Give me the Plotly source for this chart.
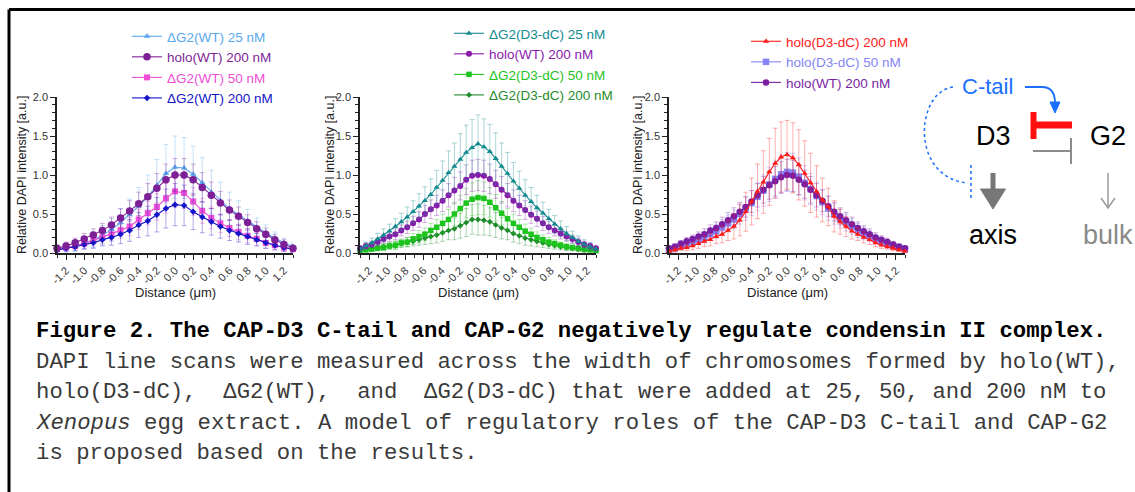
import plotly.graph_objects as go

W, H = 1135, 492
def px(x): return x / W
def py(y): return 1 - y / H

# ---------------- data ----------------
x_p1 = [-1.3, -1.2, -1.1, -1.0, -0.9, -0.8, -0.7, -0.6, -0.5, -0.4, -0.3, -0.2, -0.1, 0.0,
        0.1, 0.2, 0.3, 0.4, 0.5, 0.6, 0.7, 0.8, 0.9, 1.0, 1.1, 1.2, 1.3]
x_p23 = [-1.3, -1.235, -1.17, -1.105, -1.04, -0.975, -0.91, -0.845, -0.78, -0.715, -0.65,
         -0.585, -0.52, -0.455, -0.39, -0.325, -0.26, -0.195, -0.13, -0.065, 0.0,
         0.065, 0.13, 0.195, 0.26, 0.325, 0.39, 0.455, 0.52, 0.585, 0.65,
         0.715, 0.78, 0.845, 0.91, 0.975, 1.04, 1.105, 1.17, 1.235, 1.3]

# Panel 1
p1_dG2wt25 = [0.04, 0.06, 0.09, 0.13, 0.17, 0.23, 0.30, 0.39, 0.49, 0.60, 0.72, 0.87, 1.02, 1.10,
              1.09, 1.01, 0.90, 0.78, 0.67, 0.57, 0.49, 0.41, 0.33, 0.26, 0.19, 0.13, 0.08]
p1_dG2wt25_err = [0.05, 0.06, 0.07, 0.08, 0.10, 0.12, 0.14, 0.17, 0.20, 0.24, 0.28, 0.33, 0.37, 0.40,
                  0.39, 0.36, 0.32, 0.28, 0.24, 0.21, 0.18, 0.15, 0.12, 0.10, 0.08, 0.06, 0.05]
p1_holowt = [0.06, 0.09, 0.13, 0.18, 0.23, 0.29, 0.36, 0.45, 0.54, 0.63, 0.72, 0.83, 0.94, 1.00,
             1.00, 0.94, 0.84, 0.74, 0.64, 0.55, 0.47, 0.39, 0.31, 0.24, 0.17, 0.11, 0.06]
p1_holowt_err = [0.04, 0.05, 0.06, 0.07, 0.08, 0.09, 0.10, 0.12, 0.13, 0.15, 0.17, 0.19, 0.20, 0.21,
                 0.21, 0.20, 0.19, 0.17, 0.15, 0.13, 0.12, 0.10, 0.09, 0.08, 0.07, 0.06, 0.05]
p1_dG2wt50 = [0.05, 0.07, 0.09, 0.12, 0.16, 0.20, 0.24, 0.29, 0.34, 0.43, 0.51, 0.59, 0.70, 0.79,
              0.77, 0.66, 0.54, 0.45, 0.38, 0.32, 0.27, 0.22, 0.18, 0.13, 0.10, 0.07, 0.05]
p1_dG2wt50_err = [0.03, 0.04, 0.05, 0.06, 0.07, 0.08, 0.09, 0.10, 0.12, 0.13, 0.15, 0.17, 0.19, 0.20,
                  0.20, 0.18, 0.16, 0.14, 0.12, 0.11, 0.10, 0.09, 0.08, 0.07, 0.06, 0.05, 0.04]
p1_dG2wt200 = [0.04, 0.06, 0.08, 0.11, 0.13, 0.17, 0.20, 0.24, 0.29, 0.36, 0.41, 0.49, 0.57, 0.62,
               0.61, 0.53, 0.46, 0.40, 0.34, 0.29, 0.25, 0.21, 0.17, 0.13, 0.10, 0.07, 0.05]
p1_dG2wt200_err = [0.03, 0.04, 0.05, 0.06, 0.07, 0.08, 0.10, 0.12, 0.14, 0.16, 0.19, 0.22, 0.25, 0.27,
                   0.26, 0.23, 0.20, 0.17, 0.15, 0.13, 0.11, 0.10, 0.08, 0.07, 0.06, 0.05, 0.04]

# Panel 2
p2_dG2dc25 = [0.05, 0.09, 0.13, 0.18, 0.23, 0.28, 0.34, 0.40, 0.46, 0.53, 0.60, 0.67, 0.75, 0.84,
              0.93, 1.03, 1.11, 1.20, 1.29, 1.35, 1.40, 1.36, 1.30, 1.21, 1.11, 1.02, 0.92, 0.83,
              0.74, 0.66, 0.58, 0.51, 0.44, 0.37, 0.31, 0.25, 0.20, 0.15, 0.11, 0.08, 0.05]
p2_dG2dc25_err = [0.04, 0.05, 0.06, 0.07, 0.08, 0.09, 0.10, 0.11, 0.13, 0.14, 0.16, 0.18, 0.20, 0.22,
                  0.25, 0.28, 0.30, 0.33, 0.35, 0.36, 0.37, 0.36, 0.35, 0.33, 0.30, 0.27, 0.24, 0.22,
                  0.20, 0.18, 0.16, 0.14, 0.12, 0.11, 0.10, 0.09, 0.08, 0.07, 0.06, 0.05, 0.04]
p2_holowt = [0.06, 0.09, 0.11, 0.14, 0.18, 0.21, 0.24, 0.29, 0.33, 0.38, 0.43, 0.50, 0.56, 0.61,
             0.67, 0.74, 0.80, 0.86, 0.94, 0.99, 1.00, 0.99, 0.95, 0.88, 0.81, 0.74, 0.67, 0.61,
             0.55, 0.49, 0.44, 0.38, 0.33, 0.29, 0.25, 0.21, 0.18, 0.14, 0.11, 0.09, 0.06]
p2_holowt_err = [0.03, 0.04, 0.04, 0.05, 0.05, 0.06, 0.07, 0.07, 0.08, 0.09, 0.10, 0.11, 0.12, 0.13,
                 0.14, 0.15, 0.17, 0.18, 0.19, 0.20, 0.20, 0.20, 0.19, 0.18, 0.17, 0.15, 0.14, 0.13,
                 0.12, 0.11, 0.10, 0.09, 0.08, 0.07, 0.07, 0.06, 0.05, 0.05, 0.04, 0.04, 0.03]
p2_dG2dc50 = [0.03, 0.04, 0.05, 0.06, 0.07, 0.09, 0.10, 0.13, 0.14, 0.18, 0.21, 0.24, 0.29, 0.33,
              0.38, 0.43, 0.50, 0.57, 0.64, 0.69, 0.71, 0.70, 0.65, 0.58, 0.51, 0.44, 0.38, 0.33,
              0.28, 0.24, 0.20, 0.17, 0.14, 0.12, 0.10, 0.08, 0.07, 0.06, 0.05, 0.04, 0.03]
p2_dG2dc50_err = [0.02, 0.02, 0.03, 0.03, 0.04, 0.04, 0.05, 0.05, 0.06, 0.07, 0.08, 0.08, 0.09, 0.10,
                  0.12, 0.13, 0.15, 0.17, 0.19, 0.21, 0.22, 0.21, 0.19, 0.17, 0.15, 0.13, 0.12, 0.10,
                  0.09, 0.08, 0.07, 0.06, 0.06, 0.05, 0.04, 0.04, 0.03, 0.03, 0.03, 0.02, 0.02]
p2_dG2dc200 = [0.04, 0.05, 0.06, 0.07, 0.08, 0.09, 0.10, 0.12, 0.14, 0.15, 0.17, 0.19, 0.21, 0.23,
               0.26, 0.29, 0.31, 0.35, 0.39, 0.43, 0.43, 0.42, 0.40, 0.36, 0.32, 0.29, 0.25, 0.22,
               0.19, 0.17, 0.15, 0.13, 0.11, 0.10, 0.08, 0.07, 0.06, 0.05, 0.04, 0.04, 0.03]
p2_dG2dc200_err = [0.02, 0.02, 0.03, 0.03, 0.04, 0.04, 0.05, 0.05, 0.06, 0.06, 0.07, 0.08, 0.09, 0.10,
                   0.11, 0.12, 0.14, 0.16, 0.18, 0.19, 0.20, 0.19, 0.18, 0.16, 0.14, 0.12, 0.11, 0.10,
                   0.09, 0.08, 0.07, 0.06, 0.05, 0.05, 0.04, 0.04, 0.03, 0.03, 0.03, 0.02, 0.02]

# Panel 3
p3_holodc200 = [0.02, 0.04, 0.06, 0.07, 0.09, 0.12, 0.15, 0.17, 0.21, 0.24, 0.29, 0.34, 0.42, 0.53,
                0.66, 0.79, 0.91, 1.04, 1.15, 1.23, 1.26, 1.22, 1.13, 1.02, 0.90, 0.79, 0.68, 0.59,
                0.47, 0.40, 0.34, 0.28, 0.24, 0.20, 0.17, 0.13, 0.10, 0.08, 0.06, 0.04, 0.02]
p3_holodc200_err = [0.02, 0.03, 0.03, 0.04, 0.05, 0.06, 0.07, 0.08, 0.09, 0.11, 0.13, 0.16, 0.20, 0.25,
                    0.30, 0.35, 0.40, 0.43, 0.45, 0.45, 0.44, 0.45, 0.45, 0.42, 0.38, 0.33, 0.28, 0.24,
                    0.20, 0.16, 0.13, 0.10, 0.08, 0.07, 0.06, 0.05, 0.04, 0.03, 0.03, 0.02, 0.02]
p3_holodc50 = [0.04, 0.06, 0.09, 0.12, 0.14, 0.17, 0.20, 0.24, 0.28, 0.33, 0.38, 0.43, 0.50, 0.57,
               0.64, 0.72, 0.80, 0.88, 0.95, 1.01, 1.04, 1.03, 0.98, 0.90, 0.82, 0.73, 0.65, 0.57,
               0.50, 0.44, 0.39, 0.34, 0.29, 0.25, 0.22, 0.18, 0.15, 0.12, 0.09, 0.07, 0.05]
p3_holodc50_err = [0.03, 0.04, 0.04, 0.05, 0.05, 0.06, 0.07, 0.08, 0.09, 0.10, 0.11, 0.12, 0.13, 0.15,
                   0.16, 0.18, 0.20, 0.22, 0.24, 0.25, 0.25, 0.25, 0.24, 0.22, 0.20, 0.18, 0.16, 0.15,
                   0.13, 0.12, 0.11, 0.10, 0.09, 0.08, 0.07, 0.06, 0.05, 0.05, 0.04, 0.04, 0.03]
p3_holowt = [0.06, 0.08, 0.12, 0.15, 0.18, 0.21, 0.24, 0.29, 0.32, 0.37, 0.42, 0.47, 0.53, 0.59,
             0.66, 0.74, 0.81, 0.87, 0.92, 0.97, 1.00, 0.99, 0.94, 0.88, 0.81, 0.74, 0.67, 0.60,
             0.53, 0.47, 0.42, 0.37, 0.32, 0.28, 0.24, 0.20, 0.17, 0.14, 0.11, 0.08, 0.06]
p3_holowt_err = [0.03, 0.04, 0.04, 0.05, 0.05, 0.06, 0.07, 0.07, 0.08, 0.09, 0.10, 0.11, 0.12, 0.13,
                 0.14, 0.15, 0.17, 0.18, 0.19, 0.20, 0.20, 0.20, 0.19, 0.18, 0.17, 0.15, 0.14, 0.13,
                 0.12, 0.11, 0.10, 0.09, 0.08, 0.07, 0.07, 0.06, 0.05, 0.05, 0.04, 0.04, 0.03]

x_tick_labels = ["-1.2", "-1.0", "-0.8", "-0.6", "-0.4", "-0.2", "0.0",
                 "0.2", "0.4", "0.6", "0.8", "1.0", "1.2"]
y_tick_labels = ["0.0", "0.5", "1.0", "1.5", "2.0"]

caption_lines = [
    "<b>Figure 2. The CAP-D3 C-tail and CAP-G2 negatively regulate condensin II complex.</b>",
    "DAPI line scans were measured across the width of chromosomes formed by holo(WT),",
    "holo(D3-dC),\u00a0\u00a0ΔG2(WT),\u00a0\u00a0and\u00a0\u00a0ΔG2(D3-dC) that were added at 25, 50, and 200 nM to",
    "<i>Xenopus</i> egg extract. A model of regulatory roles of the CAP-D3 C-tail and CAP-G2",
    "is proposed based on the results.",
]

# ---------------- figure ----------------
fig = go.Figure()
SANS = "Liberation Sans, Arial, sans-serif"

def rgba(hexc, a):
    hexc = hexc.lstrip('#')
    r, g, b = int(hexc[0:2], 16), int(hexc[2:4], 16), int(hexc[4:6], 16)
    return f"rgba({r},{g},{b},{a})"

def add(xv, yv, ev, name, color, symbol, size, axis, legend, rank, errc_alpha=0.35):
    fig.add_trace(go.Scatter(
        x=xv, y=yv, mode="lines+markers",
        name=f'<span style="color:{color}">{name}</span>',
        line=dict(color=color, width=1.1),
        marker=dict(color=color, symbol=symbol, size=size, line=dict(width=0)),
        error_y=dict(type="data", array=ev, color=rgba(color, errc_alpha), thickness=1, width=2.5),
        xaxis="x" + axis, yaxis="y" + axis, legend=legend, legendrank=rank,
        cliponaxis=False,
    ))

LB, PU1, PK, BL = "#5aa8ee", "#7d1f96", "#ee4fd6", "#1414c8"
TE, PU2, GR, DG = "#138a8f", "#8a1aac", "#1ec41e", "#1e8c2a"
RD, LP, PU3 = "#ff1a1a", "#8585f5", "#7a1fa4"

# panel 1
add(x_p1, p1_dG2wt25, p1_dG2wt25_err, "ΔG2(WT) 25 nM", LB, "triangle-up", 6, "", "legend", 1)
add(x_p1, p1_dG2wt50, p1_dG2wt50_err, "ΔG2(WT) 50 nM", PK, "square", 6, "", "legend", 3)
add(x_p1, p1_dG2wt200, p1_dG2wt200_err, "ΔG2(WT) 200 nM", BL, "diamond", 5, "", "legend", 4)
add(x_p1, p1_holowt, p1_holowt_err, "holo(WT) 200 nM", PU1, "circle", 7.5, "", "legend", 2)
# panel 2
add(x_p23, p2_dG2dc200, p2_dG2dc200_err, "ΔG2(D3-dC) 200 nM", DG, "diamond", 4.5, "2", "legend2", 4)
add(x_p23, p2_dG2dc50, p2_dG2dc50_err, "ΔG2(D3-dC) 50 nM", GR, "square", 5.5, "2", "legend2", 3)
add(x_p23, p2_holowt, p2_holowt_err, "holo(WT) 200 nM", PU2, "circle", 6, "2", "legend2", 2)
add(x_p23, p2_dG2dc25, p2_dG2dc25_err, "ΔG2(D3-dC) 25 nM", TE, "triangle-up", 5.5, "2", "legend2", 1)
# panel 3
add(x_p23, p3_holodc50, p3_holodc50_err, "holo(D3-dC) 50 nM", LP, "square", 6.5, "3", "legend3", 2)
add(x_p23, p3_holowt, p3_holowt_err, "holo(WT) 200 nM", PU3, "circle", 6.5, "3", "legend3", 3)
add(x_p23, p3_holodc200, p3_holodc200_err, "holo(D3-dC) 200 nM", RD, "triangle-up", 5.5, "3", "legend3", 1)

tickvals_x = [float(t) for t in x_tick_labels]
tickvals_y = [float(t) for t in y_tick_labels]

def xaxis_cfg(x0, x1, anchor):
    return dict(domain=[px(x0), px(x1)], range=[-1.3, 1.3], anchor=anchor, automargin=False,
                showgrid=False, zeroline=False, showline=True, linecolor="#222", linewidth=1.5,
                ticks="outside", ticklen=5, tickwidth=1.2, tickcolor="#222",
                tickmode="array", tickvals=tickvals_x, ticktext=x_tick_labels, tickangle=-45,
                tickfont=dict(family=SANS, size=11, color="#333"),
                minor=dict(tickmode="linear", tick0=-1.3, dtick=0.1, ticks="outside",
                           ticklen=3.5, tickwidth=1.2, tickcolor="#222"))

def yaxis_cfg(anchor):
    return dict(domain=[py(253), py(97)], range=[0, 2.0], anchor=anchor, automargin=False,
                showgrid=False, zeroline=False, showline=True, linecolor="#222", linewidth=1.5,
                ticks="outside", ticklen=5, tickwidth=1.2, tickcolor="#222",
                tickmode="array", tickvals=tickvals_y, ticktext=y_tick_labels,
                tickfont=dict(family=SANS, size=11, color="#333"),
                minor=dict(tickmode="linear", tick0=0, dtick=0.1, ticks="outside",
                           ticklen=3, tickwidth=1, tickcolor="#222"))

def legend_cfg(x, y):
    return dict(x=px(x), y=py(y), xanchor="left", yanchor="top", bgcolor="rgba(0,0,0,0)",
                font=dict(family=SANS, size=13.5), itemwidth=30, tracegroupgap=0,
                traceorder="normal")

fig.update_layout(
    width=W, height=H, margin=dict(l=0, r=0, t=0, b=0, pad=0, autoexpand=False),
    paper_bgcolor="white", plot_bgcolor="white", showlegend=True,
    xaxis=xaxis_cfg(57, 293, "y"), yaxis=yaxis_cfg("x"),
    xaxis2=xaxis_cfg(360, 596, "y2"), yaxis2=yaxis_cfg("x2"),
    xaxis3=xaxis_cfg(669, 905, "y3"), yaxis3=yaxis_cfg("x3"),
    legend=legend_cfg(127, 21), legend2=legend_cfg(449, 18), legend3=legend_cfg(746, 26),
    font=dict(family=SANS),
)

ann = []
# axis titles
for cx, tx in [(22, 175), (330, 478), (638, 787)]:
    ann.append(dict(x=px(cx), y=py(175), xref="paper", yref="paper", text="Relative DAPI intensity [a.u.]",
                    textangle=-90, showarrow=False, font=dict(family=SANS, size=12.5, color="#222"),
                    xanchor="center", yanchor="middle"))
    ann.append(dict(x=px(tx), y=py(292), xref="paper", yref="paper", text="Distance (μm)",
                    showarrow=False, font=dict(family=SANS, size=13, color="#222"),
                    xanchor="center", yanchor="middle"))

# diagram labels
diag = [
    dict(x=px(987), y=py(87), text="C-tail", font=dict(family=SANS, size=22, color="#1a6fff")),
    dict(x=px(994), y=py(136), text="D3", font=dict(family=SANS, size=27, color="#000")),
    dict(x=px(1108), y=py(136), text="G2", font=dict(family=SANS, size=27, color="#000")),
    dict(x=px(993), y=py(235), text="axis", font=dict(family=SANS, size=27, color="#000")),
    dict(x=px(1108), y=py(235), text="bulk", font=dict(family=SANS, size=27, color="#8a8a8a")),
]
for a in diag:
    a.update(xref="paper", yref="paper", showarrow=False, xanchor="center", yanchor="middle")
ann += diag

# caption
cap_y = [331, 362, 392, 423, 453]
for i, (line, yy) in enumerate(zip(caption_lines, cap_y)):
    ann.append(dict(x=px(34), y=py(yy), xref="paper", yref="paper", text=line, showarrow=False,
                    xanchor="left", yanchor="middle",
                    font=dict(family="Liberation Mono, Courier New, monospace", size=22.3,
                              color="#000" if i == 0 else "#3a3a3a")))
fig.update_layout(annotations=ann)

def P(pts, close=False):
    s = "M " + " L ".join(f"{px(x)},{py(y)}" for x, y in pts)
    return s + (" Z" if close else "")

shapes = [
    # frame
    dict(type="line", x0=px(9), x1=px(1135), y0=py(9.5), y1=py(9.5), line=dict(color="#000", width=3)),
    dict(type="line", x0=px(9), x1=px(9), y0=py(9.5), y1=py(492), line=dict(color="#000", width=3)),
    # red T (G2 -| D3)
    dict(type="line", x0=px(1033), x1=px(1072), y0=py(125), y1=py(125), line=dict(color="#ff1010", width=7)),
    dict(type="line", x0=px(1033.5), x1=px(1033.5), y0=py(112), y1=py(139), line=dict(color="#ff1010", width=6)),
    # gray T (D3 -| G2)
    dict(type="line", x0=px(1033), x1=px(1071), y0=py(151), y1=py(151), line=dict(color="#8c8c8c", width=2)),
    dict(type="line", x0=px(1071), x1=px(1071), y0=py(138), y1=py(164), line=dict(color="#8c8c8c", width=2)),
    # blue curved arrow
    dict(type="path", path=f"M {px(1025)},{py(87)} L {px(1042)},{py(87)} Q {px(1055)},{py(87)} {px(1055)},{py(103)}",
         line=dict(color="#1a6fff", width=1.8)),
    dict(type="path", path=P([(1050, 102), (1060, 102), (1055, 113)], True),
         line=dict(color="#1a6fff", width=1), fillcolor="#1a6fff"),
    # blue dotted inhibition
    dict(type="path", path=f"M {px(953)},{py(87)} C {px(915)},{py(92)} {px(910)},{py(178)} {px(968)},{py(183)}",
         line=dict(color="#1a6fff", width=1.5, dash="dot")),
    dict(type="line", x0=px(971), x1=px(971), y0=py(165), y1=py(200), line=dict(color="#1a6fff", width=1.5, dash="dot")),
    # thick gray arrow to axis
    dict(type="line", x0=px(993), x1=px(993), y0=py(173), y1=py(192), line=dict(color="#777", width=5)),
    dict(type="path", path=P([(980.5, 189), (1005.5, 189), (993, 209)], True),
         line=dict(color="#777", width=1), fillcolor="#777"),
    # thin gray arrow to bulk
    dict(type="line", x0=px(1108), x1=px(1108), y0=py(173), y1=py(208), line=dict(color="#999", width=1.5)),
    dict(type="path", path=P([(1101, 198), (1108, 208), (1115, 198)]),
         line=dict(color="#999", width=1.5)),
]
for s in shapes:
    s.update(xref="paper", yref="paper", layer="above")
fig.update_layout(shapes=shapes)

fig.write_html("out.html", config={"displayModeBar": False})
with open("out.html", "r", encoding="utf-8") as f:
    html = f.read()
html = html.replace("<head>", "<head><style>html,body{margin:0;padding:0;overflow:hidden;}</style>", 1)
with open("out.html", "w", encoding="utf-8") as f:
    f.write(html)
